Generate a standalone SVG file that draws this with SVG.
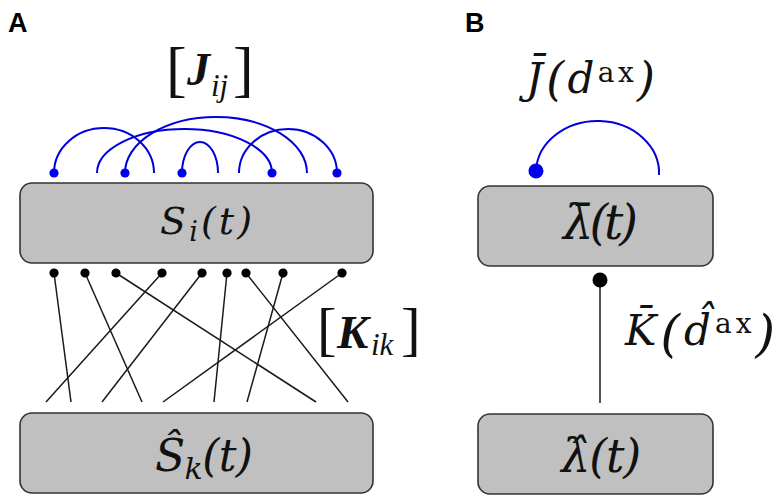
<svg xmlns="http://www.w3.org/2000/svg" width="782" height="503" viewBox="0 0 782 503">
<style>
.box{fill:#c0c0c0;stroke:#333;stroke-width:1.6}
.m{font-family:"DejaVu Serif","Liberation Serif",serif;font-style:italic;fill:#111}
.t{font-family:"Liberation Serif","Times New Roman",serif;font-style:italic;fill:#111}
.up{font-style:normal}
.bi{font-style:italic;font-weight:bold}
.lab{font-family:"Liberation Sans",Arial,sans-serif;font-weight:bold;font-size:27px;fill:#000}
.blue{fill:none;stroke:#0000dd;stroke-width:2}
.blk{fill:none;stroke:#1a1a1a;stroke-width:1.5}
</style>
<defs>
<marker id="dB" markerUnits="userSpaceOnUse" viewBox="-5 -5 10 10" refX="0" refY="0" markerWidth="10" markerHeight="10" orient="auto"><circle r="4.6" fill="#0000ee"/></marker>
<marker id="dK" markerUnits="userSpaceOnUse" viewBox="-5 -5 10 10" refX="0" refY="0" markerWidth="10" markerHeight="10" orient="auto"><circle r="4.6" fill="#000"/></marker>
<marker id="dBL" markerUnits="userSpaceOnUse" viewBox="-8 -8 16 16" refX="0" refY="0" markerWidth="16" markerHeight="16" orient="auto"><circle r="7.5" fill="#0000ee"/></marker>
<marker id="dKL" markerUnits="userSpaceOnUse" viewBox="-8 -8 16 16" refX="0" refY="0" markerWidth="16" markerHeight="16" orient="auto"><circle r="7.5" fill="#000"/></marker>
</defs>

<text class="lab" x="8" y="32">A</text>
<text class="lab" x="465" y="32">B</text>

<g id="connectors">
  <g id="J-arcs">
    <path class="blue" d="M54,173 A50,45 0 0 1 154,173" marker-start="url(#dB)"/>
    <path class="blue" d="M97,173 A87.5,44 0 0 1 272,173" marker-end="url(#dB)"/>
    <path class="blue" d="M125,173 A91,56 0 0 1 307,173" marker-start="url(#dB)"/>
    <path class="blue" d="M182,173 A18,31 0 0 1 218,173" marker-start="url(#dB)"/>
    <path class="blue" d="M239,173 A49,44 0 0 1 337,173" marker-end="url(#dB)"/>
  </g>
  <g id="K-lines">
    <path class="blk" d="M54,273 L71,402" marker-start="url(#dK)"/>
    <path class="blk" d="M85,273 L142,402" marker-start="url(#dK)"/>
    <path class="blk" d="M116,273 L316,402" marker-start="url(#dK)"/>
    <path class="blk" d="M162,273 L46,402" marker-start="url(#dK)"/>
    <path class="blk" d="M202,273 L102,402" marker-start="url(#dK)"/>
    <path class="blk" d="M227,273 L214,402" marker-start="url(#dK)"/>
    <path class="blk" d="M246,273 L348,402" marker-start="url(#dK)"/>
    <path class="blk" d="M283,273 L247,402" marker-start="url(#dK)"/>
    <path class="blk" d="M342,273 L163,402" marker-start="url(#dK)"/>
  </g>
  <path id="J-bar-arc" class="blue" d="M536,171 A61.5,52 0 0 1 659,175" marker-start="url(#dBL)"/>
  <path id="K-bar-line" class="blk" d="M600,280 L600,403" marker-start="url(#dKL)"/>
</g>

<g id="labels">
  <text class="t"><tspan class="up" x="166" y="90" font-size="62">[</tspan><tspan class="bi" x="187" y="85" font-size="46">J</tspan><tspan x="211" y="96" font-size="31">ij</tspan><tspan class="up" x="233" y="90" font-size="62">]</tspan></text>
  <text class="t"><tspan class="up" x="317" y="349" font-size="59">[</tspan><tspan class="bi" x="337" y="348" font-size="47">K</tspan><tspan x="371" y="355" font-size="31">ik</tspan><tspan class="up" x="401" y="349" font-size="59">]</tspan></text>
  <text class="m" x="526" y="93" font-size="42" textLength="129" lengthAdjust="spacing">J̄<tspan font-size="46" dy="2">(</tspan><tspan dy="-2">d</tspan><tspan class="up" font-size="28" dy="-11">ax</tspan><tspan font-size="46" dy="13">)</tspan></text>
  <text class="m" x="625" y="345" font-size="42" textLength="150" lengthAdjust="spacing">K̄<tspan font-size="50" dy="6">(</tspan><tspan dy="-6">d̂</tspan><tspan class="up" font-size="28" dy="-12">ax</tspan><tspan font-size="50" dy="18">)</tspan></text>
</g>

<g id="node-S">
  <rect class="box" x="20" y="183" width="353" height="80" rx="12"/>
  <text class="m" x="160" y="234" font-size="38" textLength="92" lengthAdjust="spacing">S<tspan font-size="27" dy="7">i</tspan><tspan dy="-7">(t)</tspan></text>
</g>
<g id="node-Shat">
  <rect class="box" x="20" y="413" width="353" height="80" rx="12"/>
  <text class="m" x="155" y="471" font-size="44" textLength="98" lengthAdjust="spacing">Ŝ<tspan font-size="30" dy="8">k</tspan><tspan dy="-8">(t)</tspan></text>
</g>
<g id="node-lbar">
  <rect class="box" x="478" y="186" width="235" height="80" rx="12"/>
  <text class="m" x="559" y="239" font-size="48" textLength="75" lengthAdjust="spacing">λ̄(t)</text>
</g>
<g id="node-lhat">
  <rect class="box" x="478" y="414" width="235" height="80" rx="12"/>
  <text class="m" x="560" y="472" font-size="46" textLength="80" lengthAdjust="spacing">λ̂(t)</text>
</g>
</svg>
